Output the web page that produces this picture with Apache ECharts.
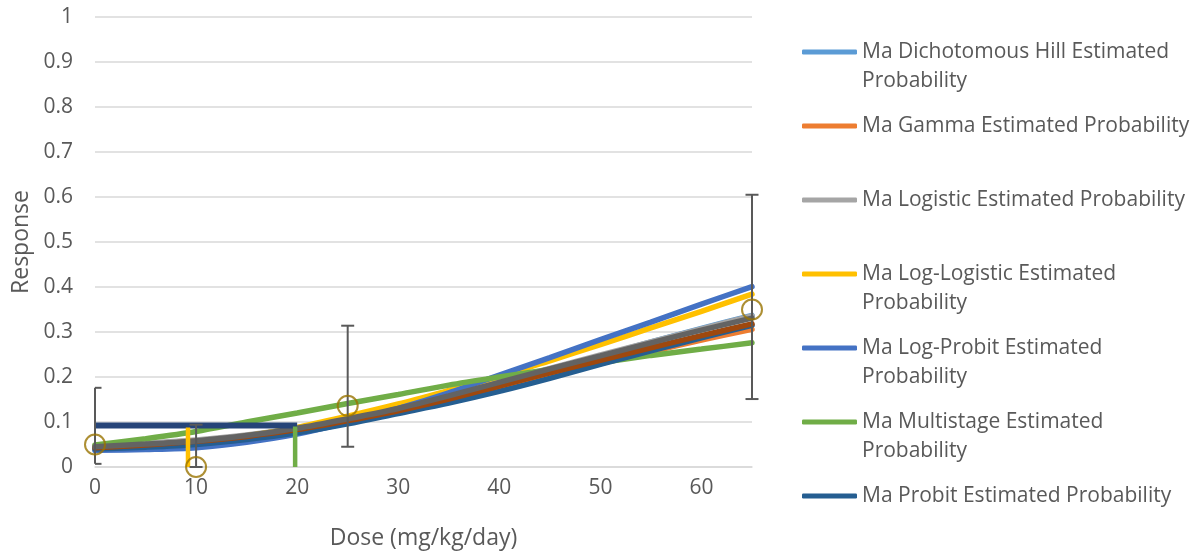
<!DOCTYPE html>
<html><head><meta charset="utf-8">
<script src="https://cdn.jsdelivr.net/npm/echarts@6/dist/echarts.min.js"></script>
<style>html,body{margin:0;padding:0;background:#fff}#c{width:1195px;height:555px}</style>
</head><body><div id="c"></div>
<script>
// ---- data ----
const doses = [0, 5, 10, 15, 20, 25, 30, 35, 40, 45, 50, 55, 60, 65];
const dichotomousHill = [0.042, 0.049, 0.057, 0.069, 0.085, 0.105, 0.128, 0.155, 0.185, 0.215, 0.247, 0.278, 0.308, 0.337];
const gamma           = [0.044, 0.050, 0.058, 0.069, 0.083, 0.102, 0.124, 0.149, 0.176, 0.203, 0.230, 0.256, 0.282, 0.306];
const logistic        = [0.048, 0.053, 0.060, 0.071, 0.087, 0.108, 0.131, 0.159, 0.189, 0.219, 0.249, 0.278, 0.307, 0.336];
const logLogistic     = [0.040, 0.044, 0.054, 0.069, 0.088, 0.113, 0.140, 0.170, 0.201, 0.236, 0.272, 0.309, 0.346, 0.384];
const logProbit       = [0.037, 0.039, 0.043, 0.055, 0.073, 0.099, 0.130, 0.165, 0.204, 0.243, 0.283, 0.322, 0.362, 0.401];
const multistage      = [0.049, 0.063, 0.079, 0.100, 0.120, 0.141, 0.161, 0.182, 0.200, 0.217, 0.232, 0.248, 0.262, 0.276];
const probit          = [0.040, 0.044, 0.050, 0.061, 0.076, 0.096, 0.119, 0.142, 0.168, 0.197, 0.228, 0.258, 0.287, 0.315];
const gammaDark       = [0.043, 0.049, 0.057, 0.068, 0.083, 0.103, 0.125, 0.151, 0.180, 0.209, 0.237, 0.265, 0.292, 0.318];
const logisticDark    = [0.045, 0.051, 0.058, 0.070, 0.086, 0.107, 0.130, 0.158, 0.188, 0.218, 0.247, 0.276, 0.304, 0.331];

const obsDose  = [0, 10, 25, 65];
const obsResp  = [0.050, 0.000, 0.136, 0.350];
const obsLower = [0.007, 0.000, 0.045, 0.151];
const obsUpper = [0.176, 0.094, 0.314, 0.605];

const bmrX = [0, 20];      const bmrY = [0.092, 0.092];
const bmdlLLX = [9.2, 9.2]; const bmdlLLY = [0, 0.088];
const bmdMsX = [19.8, 19.8]; const bmdMsY = [0, 0.090];

const seriesNames = [
  'Ma Dichotomous Hill Estimated Probability',
  'Ma Gamma Estimated Probability',
  'Ma Logistic Estimated Probability',
  'Ma Log-Logistic Estimated Probability',
  'Ma Log-Probit Estimated Probability',
  'Ma Multistage Estimated Probability',
  'Ma Probit Estimated Probability'
];
const wrapped = {
  'Ma Dichotomous Hill Estimated Probability': ['Ma Dichotomous Hill Estimated', 'Probability'],
  'Ma Log-Logistic Estimated Probability': ['Ma Log-Logistic Estimated', 'Probability'],
  'Ma Log-Probit Estimated Probability': ['Ma Log-Probit Estimated', 'Probability'],
  'Ma Multistage Estimated Probability': ['Ma Multistage Estimated', 'Probability']
};
const xTitle = 'Dose (mg/kg/day)';
const yTitle = 'Response';

// ---- chart ----
const FONT = '"Open Sans", sans-serif';
const TXT = '#595959';
const pair = (xs, ys) => xs.map((x, i) => [x, ys[i]]);

function curve(name, ys, color, z) {
  return {
    name, type: 'line', data: pair(doses, ys), smooth: 0.3, showSymbol: false, symbol: 'none',
    lineStyle: { color, width: 5.5, cap: 'round' }, itemStyle: { color }, z: z || 2, silent: true
  };
}
function segment(name, xs, ys, color, width, z) {
  return {
    name, type: 'line', data: pair(xs, ys), showSymbol: false, symbol: 'none',
    lineStyle: { color, width }, itemStyle: { color }, z: z || 3, silent: true
  };
}
// keep the icon on the first text line: blank line above, (second line or blank) below
function legendText(n) {
  const w = wrapped[n];
  return w ? ' \n' + w[0] + '\n' + w[1] : ' \n' + n + '\n ';
}

const chart = echarts.init(document.getElementById('c'), null, { renderer: 'canvas' });
chart.setOption({
  animation: false,
  backgroundColor: '#ffffff',
  grid: { left: 95, right: 443, top: 17, bottom: 86, containLabel: false },
  xAxis: {
    type: 'value', min: 0, max: 65, interval: 10,
    name: xTitle, nameLocation: 'middle', nameGap: 60,
    nameTextStyle: { fontFamily: FONT, fontSize: 23, color: TXT },
    axisLine: { show: true, lineStyle: { color: '#D9D9D9', width: 1.5 } },
    axisTick: { show: false },
    axisLabel: { fontFamily: FONT, fontSize: 21, color: TXT, margin: 11, showMaxLabel: false },
    splitLine: { show: false }
  },
  yAxis: {
    type: 'value', min: 0, max: 1, interval: 0.1,
    name: yTitle, nameLocation: 'middle', nameGap: 61,
    nameTextStyle: { fontFamily: FONT, fontSize: 23, color: TXT },
    axisLine: { show: false }, axisTick: { show: false },
    axisLabel: { fontFamily: FONT, fontSize: 21, color: TXT, margin: 22 },
    splitLine: { show: true, lineStyle: { color: '#D9D9D9', width: 1.5 } }
  },
  legend: {
    orient: 'vertical', left: 802, top: 8.5, padding: 0, itemGap: -13,
    itemWidth: 55, itemHeight: 5, icon: 'roundRect', selectedMode: false,
    textStyle: { fontFamily: FONT, fontSize: 21, color: TXT, lineHeight: 29 },
    formatter: legendText,
    data: seriesNames
  },
  series: [
    curve(seriesNames[0], dichotomousHill, '#5B9BD5', 2),
    curve(seriesNames[1], gamma, '#ED7D31', 2),
    curve(seriesNames[2], logistic, '#A5A5A5', 2),
    curve(seriesNames[3], logLogistic, '#FFC000', 2),
    curve(seriesNames[4], logProbit, '#4472C4', 2),
    curve(seriesNames[5], multistage, '#70AD47', 2),
    curve(seriesNames[6], probit, '#255E91', 2),
    curve('Gamma overlay', gammaDark, '#9E480E', 2),
    curve('Logistic overlay', logisticDark, '#636363', 2),
    segment('BMR', bmrX, bmrY, '#264478', 6, 3),
    segment('BMDL Log-Logistic', bmdlLLX, bmdlLLY, '#FFC000', 4.5, 3),
    segment('BMD Multistage', bmdMsX, bmdMsY, '#70AD47', 4.5, 3),
    {
      name: 'Error bars', type: 'custom', z: 4, silent: true,
      data: obsDose.map((d, i) => [d, obsLower[i], obsUpper[i]]),
      renderItem: function (params, api) {
        const x = api.value(0);
        const lo = api.coord([x, api.value(1)]);
        const hi = api.coord([x, api.value(2)]);
        const leftEdge = api.coord([0, 0])[0];
        const hw = 6.5;
        const st = { stroke: '#595959', lineWidth: 2 };
        const cx = lo[0];
        const l = Math.max(cx - hw, leftEdge);
        return {
          type: 'group',
          children: [
            { type: 'line', shape: { x1: cx, y1: lo[1], x2: cx, y2: hi[1] }, style: st },
            { type: 'line', shape: { x1: l, y1: lo[1], x2: cx + hw, y2: lo[1] }, style: st },
            { type: 'line', shape: { x1: l, y1: hi[1], x2: cx + hw, y2: hi[1] }, style: st }
          ]
        };
      }
    },
    {
      name: 'Observed', type: 'scatter', z: 5, silent: true,
      data: pair(obsDose, obsResp), symbol: 'circle', symbolSize: 20,
      itemStyle: { color: 'rgba(0,0,0,0)', borderColor: '#997300', borderWidth: 2 }
    }
  ]
});
</script>
</body></html>
